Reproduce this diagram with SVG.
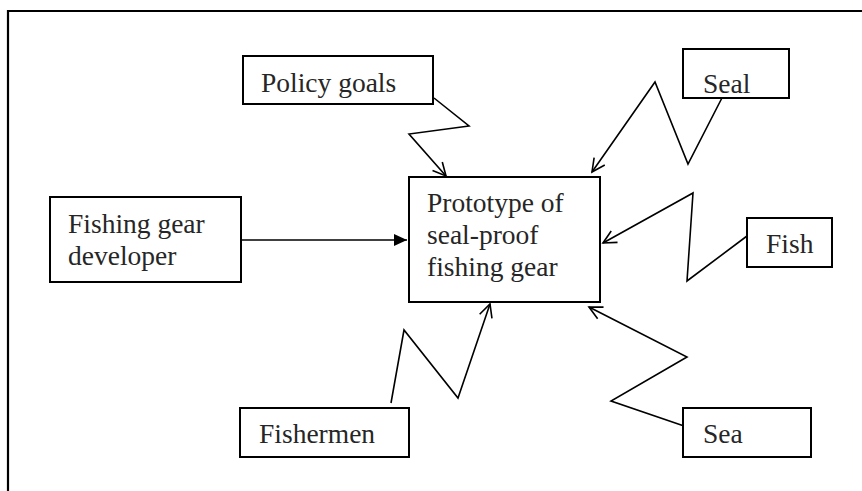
<svg xmlns="http://www.w3.org/2000/svg" width="862" height="491" viewBox="0 0 862 491">
<style>
.box{fill:#fff;stroke:#000;stroke-width:2}
.lbl{font-family:'Liberation Serif',serif;font-size:27.5px;fill:#262626}
.con{fill:none;stroke:#000;stroke-width:1.6;stroke-linejoin:miter}
</style>
<defs>
<marker id="open" markerUnits="userSpaceOnUse" markerWidth="16" markerHeight="16" viewBox="0 0 16 16" refX="14" refY="8" orient="auto">
<path d="M1,1.5 L14,8 L1,14.5" fill="none" stroke="#000" stroke-width="1.6"/>
</marker>
<marker id="solid" markerUnits="userSpaceOnUse" markerWidth="14" markerHeight="14" viewBox="0 0 14 14" refX="13" refY="7" orient="auto">
<path d="M0,1 L13,7 L0,13 Z" fill="#000"/>
</marker>
</defs>
<rect width="862" height="491" fill="#fff"/>
<path d="M8,491 V11 H862" fill="none" stroke="#000" stroke-width="2.2"/>
<g id="connectors">
<path class="con" d="M241,240 H407" marker-end="url(#solid)"/>
<path class="con" d="M434,98 L469,126 L409,134 L446,176" marker-end="url(#open)"/>
<path class="con" d="M725,92 L688,164 L655,82 L592,172" marker-end="url(#open)"/>
<path class="con" d="M747,236 L687,281 L693,193 L603,243" marker-end="url(#open)"/>
<path class="con" d="M687,427 L611,401 L687,357 L589,307" marker-end="url(#open)"/>
<path class="con" d="M391,403 L404,330 L458,398 L490,304" marker-end="url(#open)"/>
</g>
<g id="central">
<rect class="box" x="409" y="177" width="191" height="125"/>
<text class="lbl" x="427" y="212" font-family="Liberation Serif, serif">Prototype of</text>
<text class="lbl" x="427" y="244" font-family="Liberation Serif, serif">seal-proof</text>
<text class="lbl" x="427" y="276" font-family="Liberation Serif, serif">fishing gear</text>
</g>
<g id="developer">
<rect class="box" x="50" y="197" width="191" height="85"/>
<text class="lbl" x="68" y="233">Fishing gear</text>
<text class="lbl" x="68" y="265">developer</text>
</g>
<g id="policy">
<rect class="box" x="243" y="56" width="190" height="48"/>
<text class="lbl" x="261" y="92">Policy goals</text>
</g>
<g id="seal">
<rect class="box" x="683" y="49" width="106" height="49"/>
<text class="lbl" x="703" y="93">Seal</text>
</g>
<g id="fish">
<rect class="box" x="747" y="218" width="85" height="49"/>
<text class="lbl" x="766" y="253">Fish</text>
</g>
<g id="sea">
<rect class="box" x="683" y="408" width="128" height="49"/>
<text class="lbl" x="703" y="443">Sea</text>
</g>
<g id="fishermen">
<rect class="box" x="240" y="408" width="169" height="49"/>
<text class="lbl" x="259" y="443">Fishermen</text>
</g>
</svg>
